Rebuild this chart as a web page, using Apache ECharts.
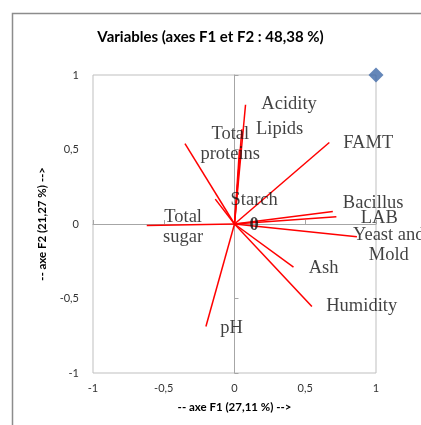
<!DOCTYPE html>
<html>
<head>
<meta charset="utf-8">
<script src="https://cdn.jsdelivr.net/npm/echarts@6/dist/echarts.min.js"></script>
<style>
  html, body { margin: 0; padding: 0; background: #fff; }
  #chart { width: 421px; height: 425px; }
</style>
</head>
<body>
<div id="chart"></div>
<script>
// ── 数据 ─────────────────────────────────────────────────────────
// vector tips (F1, F2)
const f1 = [0.078, 0.052, 0.035, -0.35, -0.136, -0.62, 0.67, 0.695, 0.72, 0.865, 0.417, 0.547, -0.202]
const f2 = [0.80, 0.636, 0.50, 0.54, 0.167, -0.01, 0.547, 0.084, 0.049, -0.085, -0.29, -0.554, -0.688]

// variable labels and where they sit (data units)
const labelText = ['Acidity', 'Lipids', 'Total\nproteins', 'Starch', 'Total\nsugar', 'FAMT',
  'Bacillus', 'LAB', 'Yeast and\nMold', 'Ash', 'Humidity', 'pH', '0']
const labelX = [0.386, 0.319, -0.030, 0.139, -0.363, 0.945, 0.98, 1.023, 1.09, 0.63, 0.899, -0.02, 0.139]
const labelY = [0.806, 0.638, 0.534, 0.163, -0.018, 0.545, 0.143, 0.042, -0.142, -0.293, -0.554, -0.699, -0.011]

const ticks = [-1, -0.5, 0, 0.5, 1]
const cornerPoint = [[1, 1]]

// ── 配置 ─────────────────────────────────────────────────────────
const fmt = v => String(v).replace('.', ',')
const TICK_FONT = { fontFamily: 'Lato, sans-serif', fontSize: 11, color: '#333' }
const NAME_FONT = { fontFamily: 'Lato, sans-serif', fontSize: 11.5, fontWeight: 'bold', color: '#000' }

const vectorSeries = f1.map((x, i) => ({
  type: 'line',
  data: [[0, 0], [x, f2[i]]],
  symbol: 'none',
  silent: true,
  lineStyle: { color: '#ff0000', width: 1.5 },
  z: 3,
}))

const labelSeries = {
  type: 'scatter',
  data: labelX.map((x, i) => ({
    value: [x, labelY[i]],
    label: {
      formatter: labelText[i],
      fontWeight: labelText[i] === '0' ? 'bold' : 'normal',
    },
  })),
  symbolSize: 0,
  silent: true,
  clip: false,
  label: {
    show: true,
    position: 'inside',
    align: 'center',
    verticalAlign: 'middle',
    fontFamily: '"Liberation Serif", serif',
    fontSize: 18.5,
    lineHeight: 20,
    color: '#111',
  },
  z: 5,
}

const option = {
  animation: false,
  backgroundColor: '#fff',
  title: {
    text: 'Variables (axes F1 et F2 : 48,38 %)',
    left: 'center',
    top: 25,
    textStyle: { fontFamily: 'Lato, sans-serif', fontSize: 15, fontWeight: 'bold', color: '#000' },
  },
  graphic: [{
    type: 'polyline',
    shape: { points: [[12.5, 430], [12.5, 13.5], [430, 13.5]] },
    style: { stroke: '#8c8c8c', lineWidth: 1.5, fill: null },
  }],
  grid: { left: 93, right: 45, top: 75, bottom: 52, show: true, borderColor: '#bfbfbf', borderWidth: 1 },
  xAxis: [
    {
      type: 'value', min: -1, max: 1, interval: 0.5,
      name: '-- axe F1 (27,11 %) -->',
      nameLocation: 'middle', nameGap: 28,
      nameTextStyle: NAME_FONT,
      axisLine: { show: false, onZero: false },
      axisTick: { show: false },
      splitLine: { show: false },
      axisLabel: { ...TICK_FONT, margin: 10, formatter: fmt },
    },
    {
      type: 'value', min: -1, max: 1, interval: 0.5,
      axisLine: { show: true, onZero: true, lineStyle: { color: '#a6a6a6' } },
      axisTick: { show: true, length: 4, lineStyle: { color: '#a6a6a6' } },
      axisLabel: { show: false },
      splitLine: { show: false },
    },
  ],
  yAxis: [
    {
      type: 'value', min: -1, max: 1, interval: 0.5,
      name: '-- axe F2 (21,27 %) -->',
      nameLocation: 'middle', nameGap: 32,
      nameTextStyle: NAME_FONT,
      axisLine: { show: false, onZero: false },
      axisTick: { show: false },
      splitLine: { show: false },
      axisLabel: { ...TICK_FONT, margin: 14, formatter: fmt },
    },
    {
      type: 'value', min: -1, max: 1, interval: 0.5,
      axisLine: { show: true, onZero: true, lineStyle: { color: '#a6a6a6' } },
      axisTick: { show: true, length: 4, lineStyle: { color: '#a6a6a6' } },
      axisLabel: { show: false },
      splitLine: { show: false },
    },
  ],
  series: [
    ...vectorSeries,
    labelSeries,
    {
      type: 'scatter',
      data: cornerPoint,
      symbol: 'diamond',
      symbolSize: [15, 15],
      itemStyle: { color: '#3e69a8' },
      silent: true,
      z: 6,
    },
  ],
}

const chart = echarts.init(document.getElementById('chart'), null, { renderer: 'canvas' })
chart.setOption(option)
</script>
</body>
</html>
